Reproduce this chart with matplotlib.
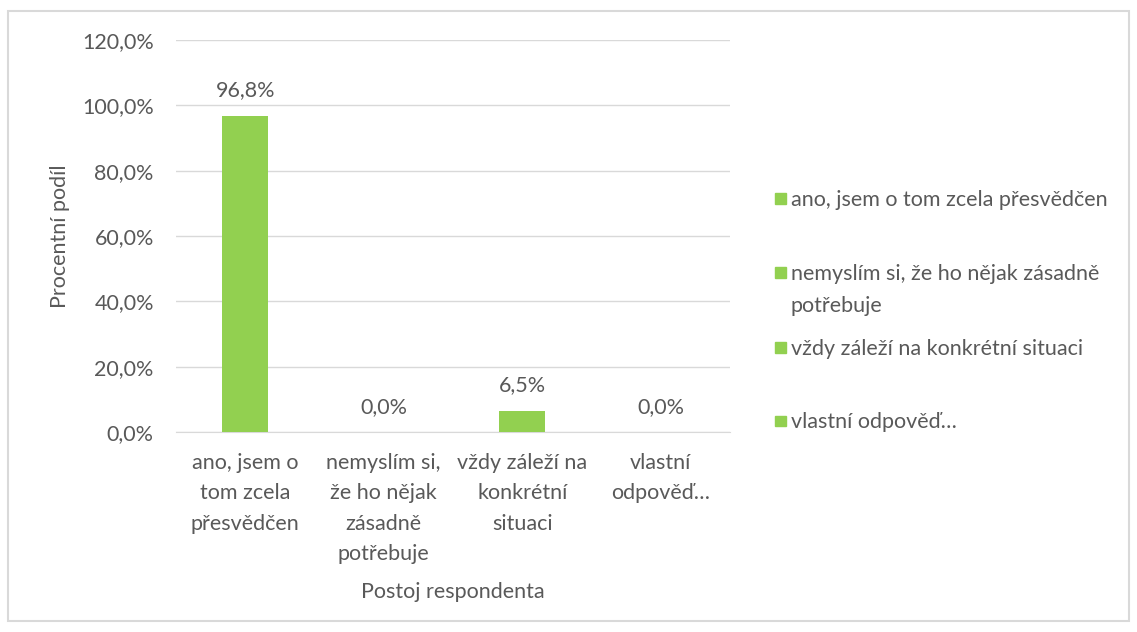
import matplotlib
matplotlib.use("Agg")
from matplotlib import pyplot as plt
from matplotlib.patches import Rectangle

categories = [
    "ano, jsem o\ntom zcela\npřesvědčen",
    "nemyslím si,\nže ho nějak\nzásadně\npotřebuje",
    "vždy záleží na\nkonkrétní\nsituaci",
    "vlastní\nodpověď…",
]
legend_labels = [
    "ano, jsem o tom zcela přesvědčen",
    "nemyslím si, že ho nějak zásadně\npotřebuje",
    "vždy záleží na konkrétní situaci",
    "vlastní odpověď…",
]
values = [96.8, 0.0, 6.5, 0.0]
yticks = [0, 20, 40, 60, 80, 100, 120]

bar_color = "#92D050"
text_color = "#595959"
grid_color = "#D9D9D9"

plt.rcParams['font.family'] = ['Lato', 'DejaVu Sans']
fs = 15.5

fig = plt.figure(figsize=(11.37, 6.32), dpi=100)
fig.patches.append(Rectangle((0.007, 0.018), 0.986, 0.965, transform=fig.transFigure,
                             fill=False, edgecolor="#D9D9D9", linewidth=1.5))

ax = fig.add_axes([0.1548, 0.3165, 0.4872, 0.6202])
x = range(len(values))
ax.bar(x, values, width=0.33, color=bar_color, zorder=3)
for xi, v in zip(x, values):
    ax.annotate(f"{v:.1f}%".replace(".", ","), (xi, v), xytext=(0, 11),
                textcoords="offset points", ha="center", va="bottom",
                fontsize=fs, color=text_color)

ax.set_xlim(-0.5, len(values) - 0.5)
ax.set_ylim(0, 120)
ax.set_yticks(yticks)
ax.set_yticklabels([f"{t:.1f}%".replace(".", ",") for t in yticks], fontsize=fs, color=text_color)
ax.set_xticks(list(x))
ax.set_xticklabels(categories, fontsize=fs, color=text_color, linespacing=1.66, va="top")
ax.tick_params(axis="both", length=0)
ax.tick_params(axis="y", pad=16)
ax.tick_params(axis="x", pad=15)
ax.grid(axis="y", color=grid_color, linewidth=1, zorder=0)
for s in ["top", "right", "left"]:
    ax.spines[s].set_visible(False)
ax.spines["bottom"].set_color(grid_color)

ax.set_ylabel("Procentní podíl", fontsize=fs, color=text_color, labelpad=9)
fig.text(0.398, 0.064, "Postoj respondenta", ha="center", va="center",
         fontsize=fs, color=text_color)

# legend entries placed like the Excel legend
leg_y = [0.687, 0.570, 0.451, 0.335]
for label, ly in zip(legend_labels, leg_y):
    fig.patches.append(Rectangle((0.6815, ly - 0.0095), 0.0095, 0.017, transform=fig.transFigure,
                                 color=bar_color))
    fig.text(0.6955, ly + 0.013, label, ha="left", va="top", fontsize=fs,
             color=text_color, linespacing=1.75)

fig.savefig("out.png", dpi=100)
